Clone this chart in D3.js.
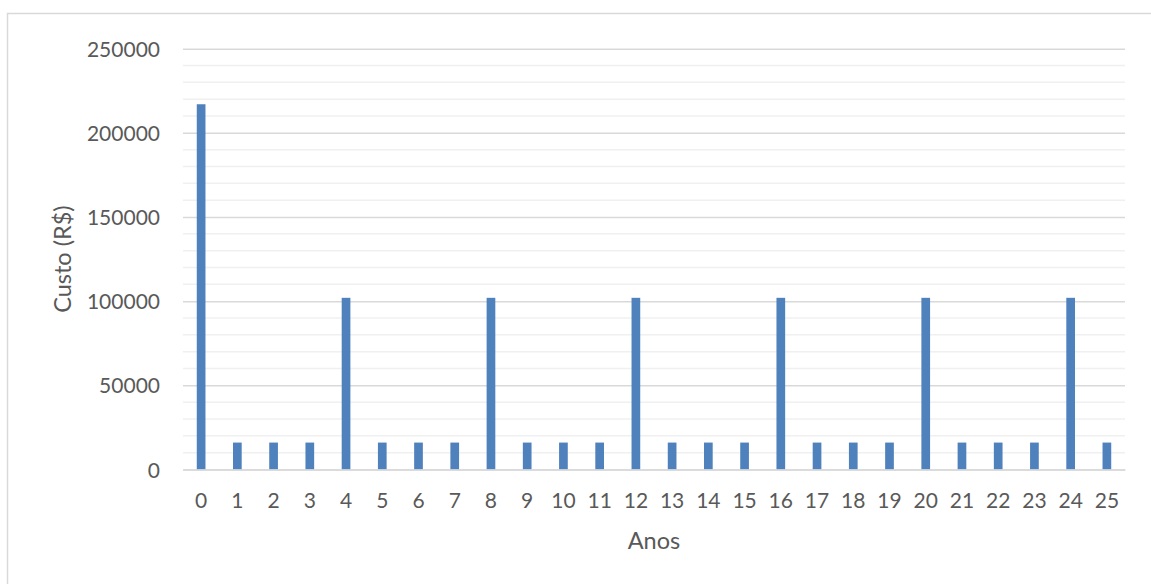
<!DOCTYPE html>
<html>
<head>
<meta charset="utf-8">
<script src="https://cdn.jsdelivr.net/npm/d3@7"></script>
<style>
  html, body { margin: 0; padding: 0; background: #fff; }
  svg { display: block; }
  text { font-family: Lato, "Open Sans", sans-serif; fill: #595959; }
</style>
</head>
<body>
<svg id="chart" width="1151" height="584"></svg>
<script>
// Custo anual ao longo da vida útil
const anos = d3.range(0, 26).map(String);
const custos = [
  217000, 16000, 16000, 16000, 102000, 16000, 16000, 16000, 102000, 16000,
  16000, 16000, 102000, 16000, 16000, 16000, 102000, 16000, 16000, 16000,
  102000, 16000, 16000, 16000, 102000, 16000
];
const yTicks = [0, 50000, 100000, 150000, 200000, 250000];
const yMinorTicks = d3.range(0, 250001, 10000);
const xTitle = "Anos";
const yTitle = "Custo (R$)";

const W = 1151, H = 584;
const plot = { left: 183, right: 1125, top: 48.7, bottom: 469.5 };

const svg = d3.select("#chart");

// chart frame
svg.append("rect")
  .attr("x", 7.5).attr("y", 13.5)
  .attr("width", W + 20).attr("height", H + 20)
  .attr("fill", "#fff")
  .attr("stroke", "#d9d9d9").attr("stroke-width", 1.5);

const x = d3.scaleBand().domain(anos).range([plot.left, plot.right]).paddingInner(0.76).paddingOuter(0.38);
const y = d3.scaleLinear().domain([0, 250000]).range([plot.bottom, plot.top]);

// minor gridlines
svg.append("g").selectAll("line")
  .data(yMinorTicks.filter(v => v % 50000 !== 0))
  .join("line")
  .attr("x1", plot.left).attr("x2", plot.right)
  .attr("y1", d => y(d)).attr("y2", d => y(d))
  .attr("stroke", "#f0f0f0").attr("stroke-width", 1.5);

// major gridlines + y labels
const yAxis = d3.axisLeft(y).tickValues(yTicks).tickSize(-(plot.right - plot.left)).tickPadding(23).tickFormat(d3.format("d"));
const gy = svg.append("g").attr("transform", `translate(${plot.left},0)`).call(yAxis);
gy.select(".domain").remove();
gy.selectAll(".tick line").attr("stroke", "#d9d9d9").attr("stroke-width", 1.5);
gy.selectAll(".tick text").attr("font-size", 21).attr("fill", "#595959").attr("dy", "0.36em");

// bars
svg.append("g").selectAll("rect")
  .data(custos)
  .join("rect")
  .attr("x", (d, i) => x(anos[i]))
  .attr("width", x.bandwidth())
  .attr("y", d => y(d))
  .attr("height", d => y(0) - y(d))
  .attr("fill", "#4f81bd");

// x axis
const xAxis = d3.axisBottom(x).tickSize(0).tickPadding(24);
const gx = svg.append("g").attr("transform", `translate(0,${plot.bottom})`).call(xAxis);
gx.select(".domain").attr("stroke", "#d9d9d9").attr("stroke-width", 1.5);
gx.selectAll(".tick text").attr("font-size", 21).attr("fill", "#595959").attr("dy", "0.71em");

// axis titles
svg.append("text")
  .attr("x", (plot.left + plot.right) / 2).attr("y", 549)
  .attr("text-anchor", "middle").attr("font-size", 23.5)
  .text(xTitle);

svg.append("text")
  .attr("transform", `translate(71,${(plot.top + plot.bottom) / 2}) rotate(-90)`)
  .attr("text-anchor", "middle").attr("font-size", 23.5)
  .text(yTitle);
</script>
</body>
</html>
